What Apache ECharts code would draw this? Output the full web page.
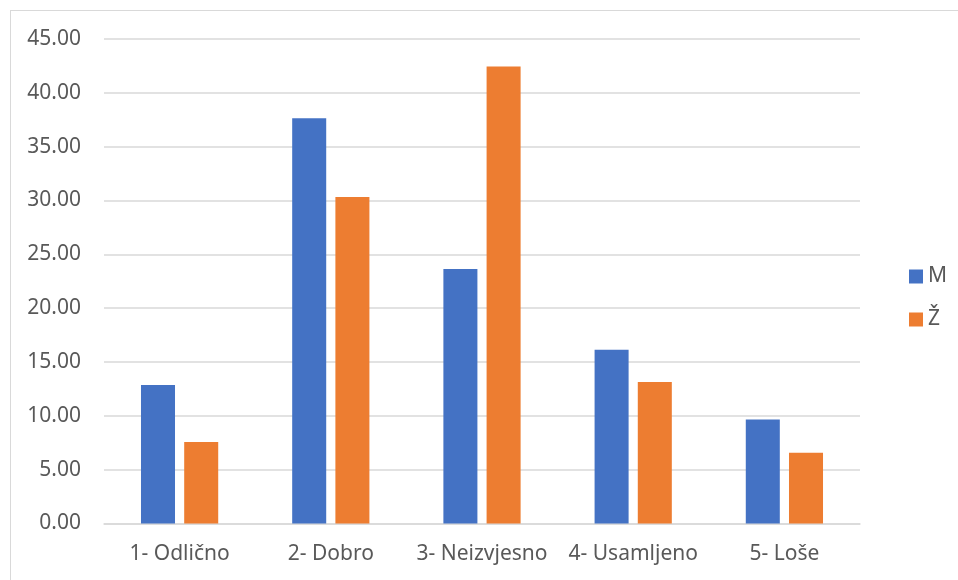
<!DOCTYPE html>
<html>
<head>
<meta charset="utf-8">
<script src="https://cdn.jsdelivr.net/npm/echarts@6/dist/echarts.min.js"></script>
<style>
html,body{margin:0;padding:0;background:#fff;}
#chart{width:958px;height:580px;}
</style>
</head>
<body>
<div id="chart"></div>
<script>
const categories = ['1- Odlično', '2- Dobro', '3- Neizvjesno', '4- Usamljeno', '5- Loše'];
const seriesNames = ['M', 'Ž'];
const valuesM = [12.86, 37.65, 23.63, 16.14, 9.67];
const valuesZ = [7.57, 30.32, 42.45, 13.14, 6.57];
const colors = ['#4472C4', '#ED7D31'];

const FONT = 'Noto Sans';
const chart = echarts.init(document.getElementById('chart'), null, {renderer: 'canvas'});
chart.setOption({
  animation: false,
  backgroundColor: '#ffffff',
  color: colors,
  textStyle: {fontFamily: FONT},
  graphic: [
    {type: 'line', shape: {x1: 10, y1: 10.5, x2: 958, y2: 10.5}, style: {stroke: '#d9d9d9', lineWidth: 1}},
    {type: 'line', shape: {x1: 10.5, y1: 10, x2: 10.5, y2: 580}, style: {stroke: '#d9d9d9', lineWidth: 1}}
  ],
  grid: {left: 104, right: 98, top: 39, bottom: 56.5, containLabel: false},
  legend: {
    orient: 'vertical',
    left: 904,
    top: 261,
    itemWidth: 14,
    itemHeight: 14,
    itemGap: 22,
    icon: 'rect',
    textStyle: {fontFamily: FONT, fontSize: 21, color: '#595959'},
    data: seriesNames
  },
  xAxis: {
    type: 'category',
    data: categories,
    axisLine: {lineStyle: {color: '#d9d9d9', width: 1.5}},
    axisTick: {show: false},
    axisLabel: {fontFamily: FONT, fontSize: 21, color: '#595959', margin: 20, interval: 0}
  },
  yAxis: {
    type: 'value',
    min: 0,
    max: 45,
    interval: 5,
    axisLine: {show: false},
    axisTick: {show: false},
    splitLine: {lineStyle: {color: '#d9d9d9', width: 1.5}},
    axisLabel: {fontFamily: FONT, fontSize: 21, color: '#595959', margin: 23,
      formatter: v => v.toFixed(2)}
  },
  series: [
    {name: seriesNames[0], type: 'bar', data: valuesM, barWidth: '22.5%', barGap: '27%',
      itemStyle: {color: colors[0]}},
    {name: seriesNames[1], type: 'bar', data: valuesZ, barWidth: '22.5%', barGap: '27%',
      itemStyle: {color: colors[1]}}
  ]
});
</script>
</body>
</html>
